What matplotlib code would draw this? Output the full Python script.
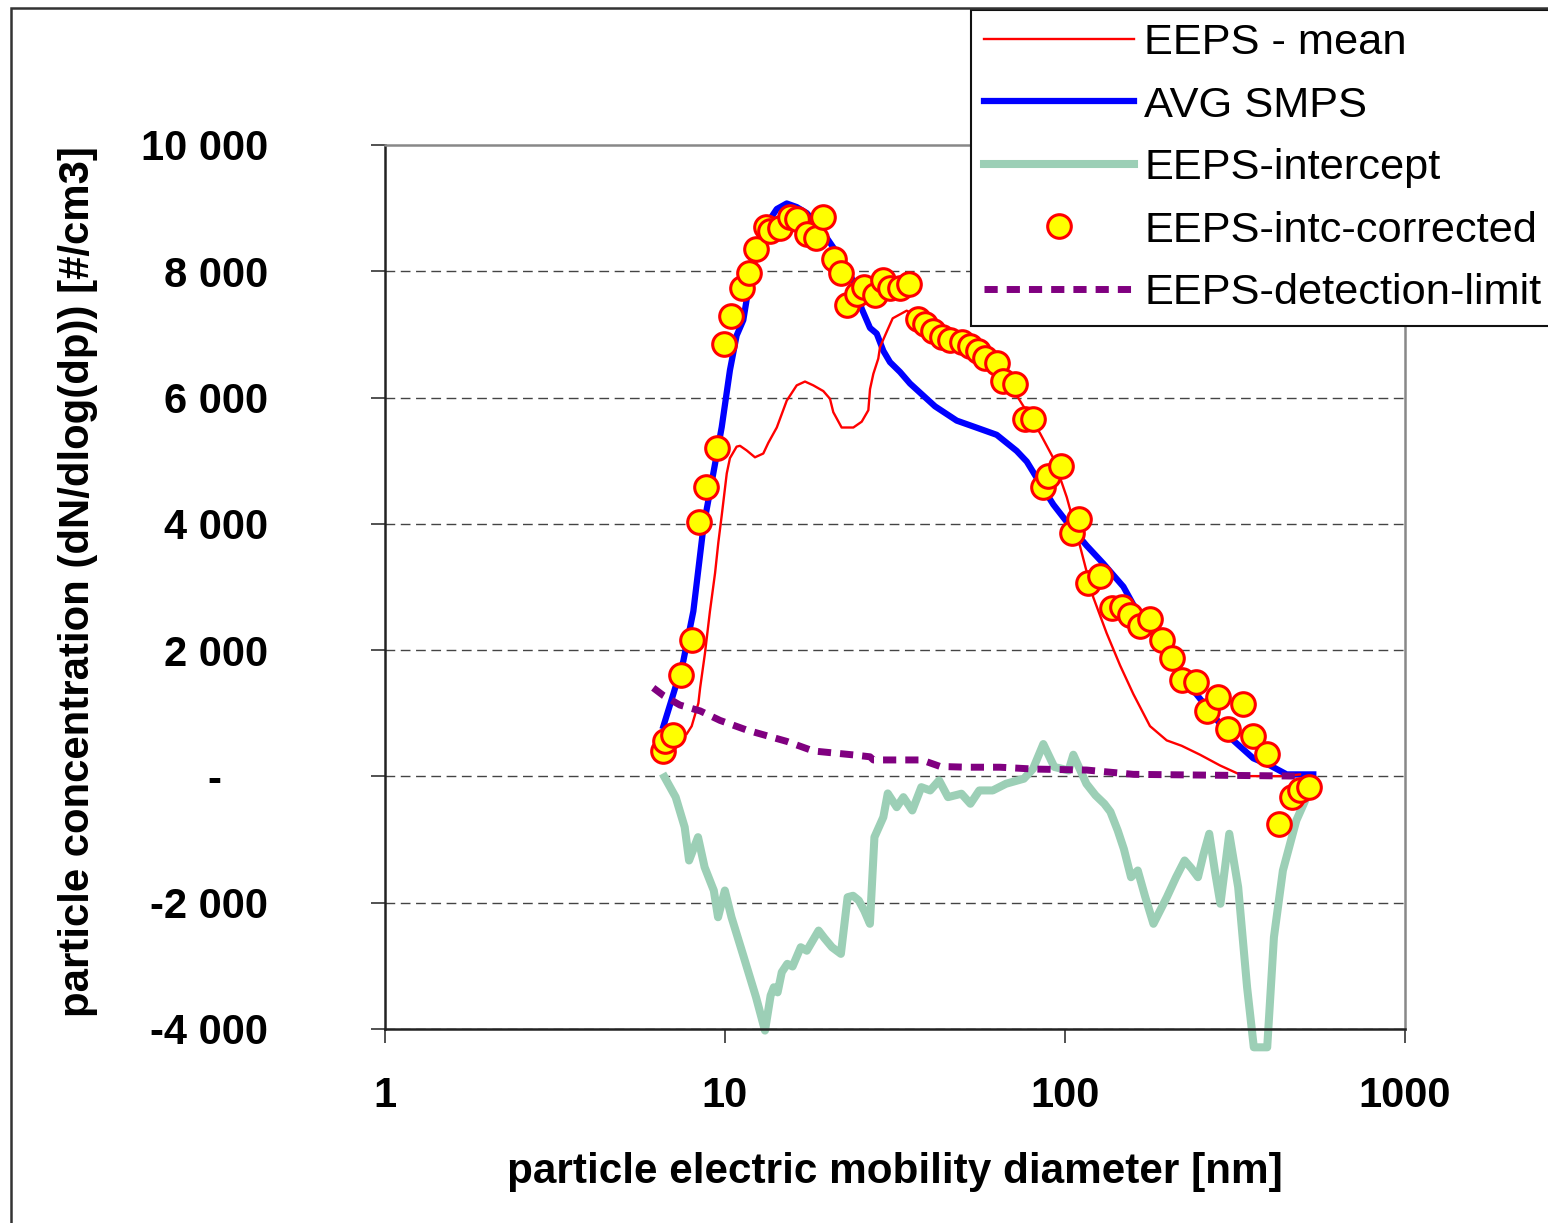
import matplotlib
matplotlib.use("Agg")
import matplotlib.pyplot as plt
from matplotlib.patches import Rectangle

plt.rcParams['font.family'] = ['Liberation Sans', 'DejaVu Sans']

# ---------------- data ----------------
corr_d = [6.56, 6.66, 7.05, 7.41, 7.98, 8.39, 8.79, 9.45, 9.93, 10.39, 11.20, 11.77, 12.31,
          13.20, 13.56, 14.52, 15.54, 16.25, 17.39, 18.52, 19.39, 20.92, 21.94, 22.89, 24.50,
          25.63, 27.68, 29.22, 30.57, 32.71, 34.70, 37.03, 38.76, 41.00, 43.40, 45.90, 49.70,
          52.56, 55.59, 58.17, 62.97, 65.85, 71.28, 76.27, 80.35, 86.35, 89.33, 97.32, 104.6,
          110.2, 117.1, 126.7, 137.2, 146.9, 155.3, 166.2, 177.8, 192.5, 206.0, 220.4, 242.8,
          261.1, 282.4, 302.2, 334.5, 357.9, 393.6, 426.9, 464.4, 491.2, 523.0]
corr_v = [403, 555, 650, 1601, 2160, 4025, 4586, 5204, 6846, 7298, 7734, 7965, 8358,
          8700, 8637, 8693, 8862, 8832, 8590, 8529, 8862, 8193, 7965, 7468, 7639,
          7753, 7620, 7861, 7740, 7740, 7800, 7249, 7163, 7052, 6967, 6910, 6881,
          6824, 6740, 6626, 6542, 6260, 6219, 5653, 5653, 4590, 4759, 4918, 3853,
          4079, 3060, 3174, 2664, 2677, 2563, 2382, 2494, 2155, 1872, 1532, 1490,
          1035, 1262, 751, 1147, 639, 355, -759, -323, -222, -165]

smps_d = [6.59, 6.97, 7.54, 8.07, 8.64, 9.24, 9.78, 10.34, 10.82, 11.32, 11.71, 12.39, 13.27,
          14.20, 15.19, 16.25, 17.39, 19.03, 20.82, 22.80, 24.39, 25.24, 26.70, 27.94, 29.22,
          30.57, 32.71, 35.00, 39.20, 41.47, 48.03, 55.0, 62.97, 72.1, 77.2, 84.4, 92.4,
          103.4, 115.8, 129.6, 148.5, 158.8, 181.8, 208.2, 238.5, 273.1, 312.6, 357.9,
          400.8, 448.8, 537.4]
smps_v = [796, 1220, 1827, 2615, 3949, 4802, 5531, 6434, 6983, 7227, 7710, 8320, 8748,
          8986, 9074, 9017, 8922, 8685, 8377, 8074, 7710, 7407, 7103, 7013, 6740,
          6561, 6406, 6223, 5981, 5861, 5635, 5523, 5410, 5155, 4986, 4645, 4306,
          3967, 3655, 3372, 3005, 2721, 2268, 1759, 1363, 967, 571, 287,
          174, 32, 32]

mean_d = [7.72, 7.98, 8.35, 8.45, 8.73, 9.03, 9.35, 9.56, 9.78, 10.12, 10.34, 10.82, 11.07,
          11.58, 12.25, 12.96, 13.41, 14.20, 15.19, 16.25, 17.19, 18.19, 19.46, 20.36, 20.82,
          22.03, 23.85, 25.24, 26.40, 26.70, 27.31, 28.24, 28.57, 29.90, 31.13, 34.22, 36.95,
          42.91, 51.40, 60.17, 68.89, 77.2, 84.4, 92.4, 101.2, 108.2, 114.5, 121.1, 132.6,
          145.2, 158.8, 177.8, 199.1, 220.4, 249.5, 285.7, 334.5, 438.6, 491.2]
mean_v = [675, 796, 1160, 1403, 1949, 2615, 3222, 3708, 4132, 4799, 5041, 5223, 5236,
          5163, 5054, 5114, 5284, 5526, 5951, 6193, 6254, 6193, 6103, 5981, 5769,
          5526, 5526, 5618, 5800, 6133, 6376, 6618, 6800, 7043, 7255, 7376, 7290,
          6853, 6683, 6485, 6203, 5778, 5437, 5041, 4422, 3853, 3344, 2837, 2268,
          1759, 1306, 797, 571, 485, 344, 174, 5, 5, 32]

dl_d = [6.15, 6.59, 7.37, 8.45, 9.67, 11.58, 15.19, 18.19, 23.85, 26.70, 27.31, 36.63,
        37.89, 42.91, 51.40, 64.40, 80.7, 115.8, 158.8, 491.2]
dl_v = [1403, 1281, 1130, 1038, 887, 735, 555, 403, 341, 311, 261, 261,
        261, 158, 146, 146, 117, 101, 33, 5]

int_d = [6.64, 7.16, 7.61, 7.84, 8.33, 8.71, 9.27, 9.54, 9.99, 10.45, 11.28, 12.34, 13.11,
         13.62, 13.92, 14.28, 14.69, 15.25, 15.80, 16.70, 17.40, 18.85, 19.60, 20.64, 21.92,
         22.94, 23.80, 24.75, 25.70, 26.68, 27.51, 29.22, 30.11, 31.99, 33.47, 35.55, 37.79,
         40.13, 42.63, 45.28, 49.59, 52.70, 55.97, 61.29, 67.06, 75.69, 80.50, 86.35, 93.0,
         102.5, 105.8, 115.6, 123.0, 130.5, 136.0, 142.9, 149.0, 156.4, 163.7, 172.0, 182.0,
         199.3, 212.0, 224.8, 235.0, 246.1, 255.0, 265.6, 276.0, 286.5, 304.2, 323.1, 343.2,
         359.2, 393.3, 411.6, 437.4, 479.1, 524.1]
int_v = [-11, -328, -803, -1331, -962, -1437, -1807, -2230, -1807, -2230, -2810, -3498, -4025,
         -3470, -3339, -3420, -3100, -2968, -3010, -2705, -2760, -2441, -2560, -2705, -2810,
         -1913, -1890, -1965, -2130, -2334, -962, -645, -269, -487, -328, -539, -170,
         -222, -63, -328, -274, -433, -222, -222, -116, -36, 120, 513, 150,
         95, 344, -116, -300, -433, -560, -856, -1150, -1596, -1490, -1900, -2334,
         -1913, -1600, -1331, -1450, -1596, -1250, -908, -1500, -2017, -908, -1754, -3339,
         -4290, -4290, -2547, -1490, -697, -222]

x_ticks = [1, 10, 100, 1000]
x_ticklabels = ["1", "10", "100", "1000"]
y_ticks = [-4000, -2000, 0, 2000, 4000, 6000, 8000, 10000]
y_ticklabels = ["-4 000", "-2 000", "-    ", "2 000", "4 000", "6 000", "8 000", "10 000"]

# ---------------- figure ----------------
W, H = 1548, 1223
fig = plt.figure(figsize=(W / 100, H / 100), dpi=100)
ax = fig.add_axes([385 / W, 1 - 1029 / H, (1405 - 385) / W, (1029 - 145) / H])

ax.set_xscale('log')
ax.set_xlim(1, 1000)
ax.set_ylim(-4000, 10000)

for yv in y_ticks[:-1]:
    ax.axhline(yv, color='#444444', lw=1.0, linestyle=(0, (7, 4)), zorder=1)

green = '#9ccfb6'
l_int, = ax.plot(int_d, int_v, color=green, lw=5.8, zorder=2, clip_on=False)
l_smps, = ax.plot(smps_d, smps_v, color='#0000ff', lw=4.5, zorder=3)
l_mean, = ax.plot(mean_d, mean_v, color='#ff0000', lw=1.7, zorder=4)
l_dl, = ax.plot(dl_d, dl_v, color='#800080', lw=5, linestyle=(0, (1.9, 1.3)), zorder=4.5)
l_corr, = ax.plot(corr_d, corr_v, linestyle='none', marker='o', markersize=17,
                  markerfacecolor='#ffff00', markeredgecolor='#ff0000', markeredgewidth=2.2,
                  zorder=5)

ax.set_xticks(x_ticks)
ax.set_xticklabels(x_ticklabels)
ax.xaxis.set_minor_locator(matplotlib.ticker.NullLocator())
ax.set_yticks(y_ticks)
ax.set_yticklabels(y_ticklabels)

ax.tick_params(axis='x', direction='out', length=10, width=1.2, color='#333333',
               labelsize=30, pad=24)
ax.tick_params(axis='y', direction='out', length=10, width=1.2, color='#333333',
               labelsize=30, pad=74)
for lab in ax.get_xticklabels() + ax.get_yticklabels():
    lab.set_fontweight('bold')

ax.spines['left'].set_color('#222222')
ax.spines['bottom'].set_color('#222222')
ax.spines['top'].set_color('#888888')
ax.spines['right'].set_color('#888888')
for s in ax.spines.values():
    s.set_linewidth(1.8)

fig.text(895 / W, 1 - 1172 / H, "particle electric mobility diameter [nm]",
         ha='center', va='center', fontsize=30.4, fontweight='bold')
fig.text(78 / W, 1 - 582 / H, "particle concentration (dN/dlog(dp)) [#/cm3]",
         ha='center', va='center', rotation=90, fontsize=30.2, fontweight='bold')

handles = [l_mean, l_smps, l_int, l_corr, l_dl]
labels = ["EEPS - mean", "AVG SMPS", "EEPS-intercept", "EEPS-intc-corrected",
          "EEPS-detection-limit"]
leg = ax.legend(handles, labels, loc='upper left',
                bbox_to_anchor=(971 / W, 1 - 10 / H), bbox_transform=fig.transFigure,
                fontsize=31.2, frameon=True, fancybox=False, framealpha=1,
                edgecolor='#111111', handlelength=3.45, handletextpad=0.25,
                labelspacing=0.52, borderpad=0.3, borderaxespad=0, markerscale=1.0)
leg.get_frame().set_linewidth(1.5)
leg.set_zorder(10)

# outer border (only top and left edges visible)
fig.add_artist(Rectangle((11 / W, -0.05), 1.2, 1 - 8 / H + 0.05, transform=fig.transFigure,
                         fill=False, edgecolor='#333333', lw=1.8, clip_on=False))

fig.savefig("out.png", dpi=100)
